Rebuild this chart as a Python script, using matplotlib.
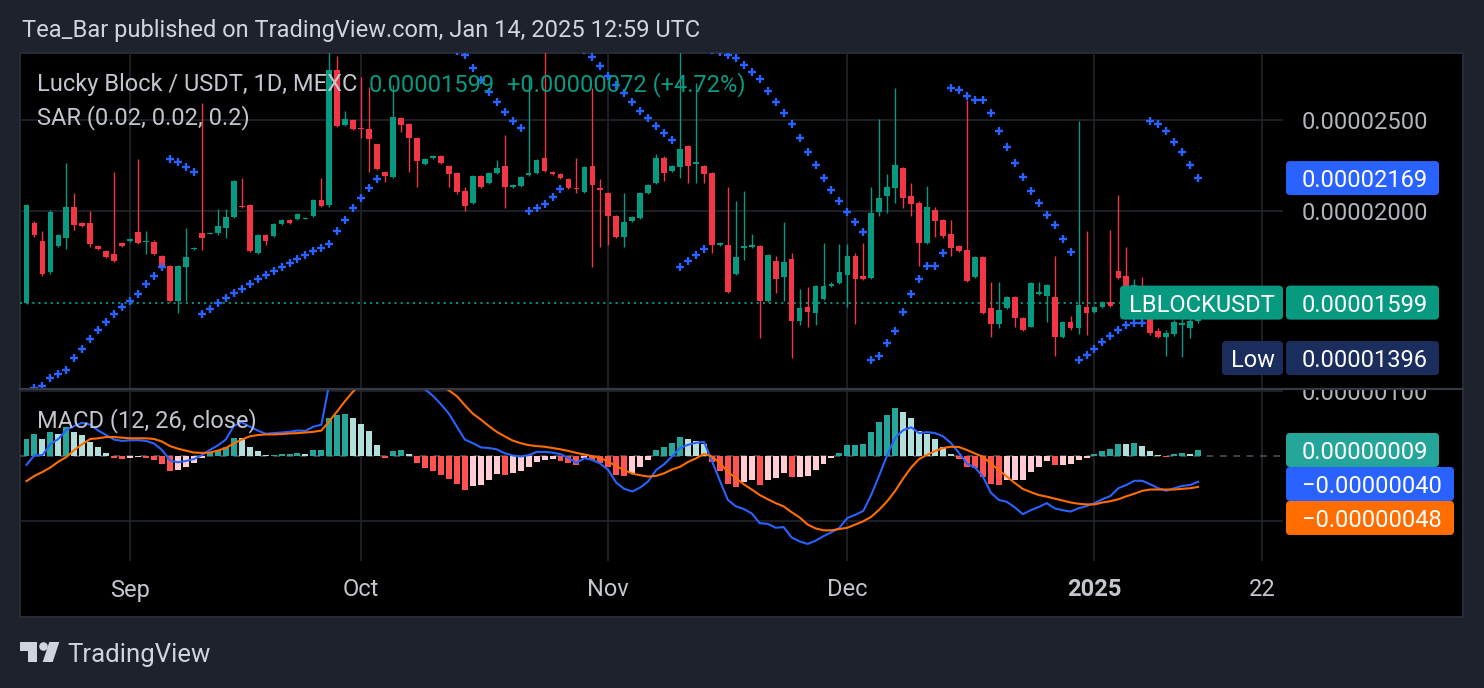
import numpy as np
import matplotlib.pyplot as plt
from matplotlib.patches import FancyBboxPatch, Rectangle, Polygon, Circle
from matplotlib.transforms import blended_transform_factory, IdentityTransform
from matplotlib.lines import Line2D

plt.rcParams['font.family'] = ['Roboto', 'DejaVu Sans']

# prices in units of 0.00000001 USDT, MACD values in units of 0.0000001
SCALE = 1e-8
MSCALE = 1e-7

# daily candles, Aug 20 2024 -> Jan 14 2025
opens = [
    1596, 1942, 1858, 1723, 1835, 1872, 2020, 1942, 1942, 1835,
    1813, 1800, 1849, 1858, 1900, 1854, 1854, 1791, 1748, 1604,
    1744, 1822, 1895, 1891, 1895, 1918, 1970, 2025, 2030, 1804,
    1886, 1882, 1937, 1956, 1961, 1961, 1975, 2055, 2030, 2826,
    2469, 2500, 2451, 2445, 2357, 2200, 2174, 2512, 2475, 2392,
    2244, 2277, 2289, 2233, 2195, 2101, 2040, 2179, 2143, 2195,
    2233, 2122, 2127, 2185, 2195, 2277, 2200, 2190, 2163, 2117,
    2096, 2233, 2117, 2090, 1975, 1877, 1951, 1965, 2090, 2143,
    2277, 2206, 2228, 2345, 2244, 2233, 2195, 1840, 1840, 1714,
    1827, 1831, 1835, 1604, 1769, 1701, 1778, 1527, 1581, 1557,
    1612, 1664, 1676, 1710, 1791, 1706, 1697, 1995, 2075, 2117,
    2222, 2075, 2040, 1849, 2005, 1956, 1891, 1835, 1818, 1701,
    1786, 1577, 1516, 1577, 1620, 1539, 1508, 1632, 1624, 1620,
    1469, 1523, 1501, 1581, 1561, 1581, 1600, 1727, 1706, 1648,
    1664, 1550, 1490, 1469, 1480, 1512, 1501, 1527]
highs = [
    2034, 1951, 1904, 2005, 1891, 2250, 2090, 1947, 2000, 1840,
    1818, 2200, 1854, 1872, 2272, 1904, 1863, 1795, 1752, 1752,
    1918, 1831, 2606, 1900, 2010, 2010, 2158, 2169, 2035, 1891,
    1891, 1942, 1961, 1961, 1990, 1970, 2060, 2169, 3150, 2925,
    2556, 2506, 2778, 2711, 2357, 2206, 2724, 2519, 2481, 2398,
    2277, 2294, 2294, 2239, 2200, 2122, 2185, 2185, 2200, 2266,
    2410, 2138, 2179, 2791, 2272, 3000, 2206, 2195, 2169, 2277,
    2233, 2704, 2163, 2096, 1980, 2090, 1975, 2096, 2138, 2300,
    2289, 2239, 3050, 2351, 2738, 2239, 2200, 1854, 2122, 2050,
    2101, 1891, 1840, 1800, 1791, 1947, 1804, 1652, 1660, 1668,
    1849, 1681, 1845, 1845, 1804, 1849, 2122, 2506, 2190, 2704,
    2228, 2143, 2050, 2127, 2020, 1961, 1956, 1840, 2625, 1791,
    1791, 1681, 1681, 1624, 1624, 1542, 1681, 1681, 1672, 1791,
    1527, 1546, 2494, 1904, 1584, 1604, 1909, 2080, 1831, 1693,
    1701, 1561, 1501, 1494, 1531, 1550, 1539, 1616]
lows = [
    1594, 1877, 1706, 1714, 1831, 1822, 1909, 1923, 1831, 1818,
    1782, 1765, 1831, 1854, 1845, 1800, 1795, 1744, 1600, 1557,
    1604, 1818, 1818, 1891, 1886, 1872, 1965, 2015, 1809, 1800,
    1840, 1877, 1933, 1937, 1956, 1961, 1970, 2020, 2020, 2457,
    2463, 2439, 2392, 2200, 2211, 2148, 2169, 2427, 2200, 2122,
    2239, 2272, 2244, 2122, 2085, 2000, 2035, 2117, 2138, 2190,
    2015, 2117, 2122, 2179, 2190, 2200, 2185, 2163, 2111, 2090,
    2090, 1744, 1831, 1840, 1872, 1831, 1947, 1961, 2085, 2138,
    2153, 2200, 2169, 2143, 2143, 2143, 1804, 1835, 1636, 1710,
    1774, 1827, 1465, 1600, 1636, 1604, 1396, 1512, 1505, 1512,
    1608, 1660, 1672, 1581, 1516, 1689, 1693, 1975, 1990, 2040,
    2015, 1975, 1748, 1845, 1877, 1872, 1791, 1809, 1681, 1697,
    1554, 1469, 1501, 1573, 1505, 1490, 1505, 1628, 1523, 1402,
    1465, 1497, 1480, 1476, 1557, 1577, 1581, 1693, 1652, 1628,
    1539, 1476, 1465, 1404, 1472, 1400, 1465, 1520]
closes = [
    2030, 1886, 1714, 1995, 1886, 2020, 1933, 1928, 1845, 1822,
    1786, 1769, 1835, 1868, 1849, 1858, 1800, 1748, 1604, 1748,
    1786, 1827, 1872, 1895, 1928, 1970, 2153, 2020, 1813, 1886,
    1858, 1937, 1956, 1942, 1985, 1965, 2055, 2025, 2826, 2463,
    2506, 2445, 2445, 2386, 2217, 2179, 2519, 2469, 2392, 2261,
    2272, 2289, 2250, 2190, 2096, 2025, 2179, 2122, 2195, 2222,
    2122, 2132, 2174, 2195, 2266, 2206, 2190, 2169, 2117, 2111,
    2228, 2132, 2106, 1975, 1877, 1947, 1970, 2090, 2132, 2277,
    2195, 2233, 2328, 2233, 2255, 2190, 1840, 1849, 1640, 1786,
    1835, 1840, 1604, 1795, 1693, 1765, 1527, 1577, 1561, 1664,
    1664, 1672, 1723, 1791, 1693, 1693, 1990, 2065, 2122, 2239,
    2065, 2035, 1849, 2020, 1951, 1882, 1827, 1813, 1685, 1786,
    1557, 1516, 1569, 1620, 1539, 1494, 1676, 1640, 1668, 1469,
    1523, 1501, 1588, 1557, 1581, 1600, 1584, 1697, 1656, 1668,
    1550, 1483, 1469, 1483, 1523, 1520, 1527, 1599]

# parabolic SAR (0.02, 0.02, 0.2) as plotted
sar = [
    1283, 1296, 1305, 1328, 1341, 1357, 1395, 1429, 1462, 1494,
    1523, 1554, 1581, 1604, 1632, 1672, 1706, 1744, 2272, 2255,
    2228, 2200, 1554, 1573, 1596, 1616, 1636, 1652, 1672, 1693,
    1710, 1727, 1744, 1761, 1778, 1795, 1813, 1827, 1845, 1904,
    1956, 2015, 2065, 2117, 2163, 3150, 3140, 3125, 3110, 3090,
    3065, 3040, 3010, 2985, 2960, 2932, 2840, 2758, 2678, 2612,
    2550, 2494, 2451, 2000, 2015, 2035, 2070, 2111, 3042, 3004,
    2968, 2917, 2854, 2784, 2724, 2671, 2612, 2556, 2512, 2463,
    2421, 2380, 1744, 1769, 1795, 1822, 2968, 2954, 2932, 2910,
    2861, 2812, 2764, 2684, 2612, 2544, 2475, 2392, 2311, 2239,
    2169, 2106, 2050, 1995, 1947, 1900, 1388, 1402, 1447, 1490,
    1561, 1632, 1693, 1748, 1748, 1804, 2704, 2691, 2652, 2625,
    2625, 2544, 2433, 2340, 2250, 2174, 2101, 2040, 1980, 1933,
    1868, 1809, 1388, 1408, 1429, 1451, 1472, 1494, 1512, 1520,
    1520, 2494, 2475, 2433, 2369, 2311, 2239, 2169]

# MACD (12, 26, close)
macd_line = [
    -1.4, 0.1, 0.1, 1.8, 2.6, 4.0, 4.6, 5.1, 4.8, 3.9,
    3.2, 2.5, 2.3, 2.4, 2.4, 2.3, 1.9, 0.9, -0.7, -1.0,
    -0.8, -0.5, 0.1, 0.9, 1.6, 2.5, 4.6, 5.2, 4.5, 3.9,
    3.4, 3.5, 3.6, 3.7, 3.9, 3.85, 4.5, 4.8, 11.2, 13.2,
    14.9, 15.75, 16.1, 15.95, 14.15, 12.05, 13.3, 13.75, 13.15, 11.5,
    10.25, 9.25, 7.95, 6.5, 4.5, 2.5, 1.95, 1.3, 1.2, 1.0,
    0.4, 0.05, -0.1, 0.1, 0.6, 0.6, 0.5, 0.25, -0.35, -1.1,
    -0.35, -0.65, -1.2, -2.2, -4.15, -5.1, -5.5, -4.9, -3.95, -2.2,
    -1.3, -0.1, 1.2, 1.7, 2.0, 2.15, -0.8, -3.85, -6.8, -7.8,
    -8.2, -8.9, -10.4, -10.5, -11.1, -11.0, -12.6, -13.2, -13.6, -13.1,
    -12.4, -11.8, -11.1, -9.6, -9.1, -8.5, -6.0, -3.0, 0.15, 2.8,
    3.95, 4.4, 3.5, 3.65, 3.5, 3.0, 1.95, 0.45, -1.2, -1.8,
    -3.2, -5.7, -6.8, -7.1, -7.95, -9.0, -8.4, -7.9, -7.3, -8.1,
    -8.4, -8.6, -8.1, -7.75, -7.3, -6.7, -6.2, -5.0, -4.5, -3.85,
    -3.85, -4.4, -5.0, -5.4, -5.0, -4.65, -4.5, -4.0]
signal_line = [
    -3.9, -3.1, -2.5, -1.8, -0.9, -0.2, 0.9, 1.8, 2.6, 2.7,
    2.9, 2.9, 2.8, 2.7, 2.7, 2.7, 2.6, 2.2, 1.5, 1.1,
    0.8, 0.5, 0.45, 0.5, 0.8, 1.2, 1.9, 2.5, 3.0, 3.2,
    3.3, 3.3, 3.35, 3.45, 3.5, 3.6, 3.7, 3.9, 5.35, 6.9,
    8.5, 9.95, 11.2, 12.15, 12.55, 12.45, 12.6, 12.85, 12.9, 12.6,
    12.15, 11.55, 10.85, 10.1, 9.2, 7.8, 6.5, 5.6, 4.6, 3.7,
    3.0, 2.35, 1.95, 1.65, 1.5, 1.4, 1.2, 1.0, 0.75, 0.45,
    0.2, -0.05, -0.35, -0.9, -1.6, -2.2, -2.75, -3.0, -3.2, -3.1,
    -2.7, -2.1, -1.7, -0.95, -0.4, 0.3, -0.1, -1.1, -2.5, -3.4,
    -4.4, -5.2, -6.05, -6.7, -7.3, -7.8, -8.7, -9.5, -10.6, -11.2,
    -11.5, -11.5, -11.3, -11.1, -10.6, -10.1, -9.4, -8.3, -7.0, -5.4,
    -3.5, -1.8, -0.5, 0.15, 0.75, 1.2, 1.4, 1.35, 0.9, 0.35,
    -0.15, -1.2, -2.2, -3.2, -4.2, -5.1, -5.6, -6.05, -6.3, -6.6,
    -6.9, -7.2, -7.4, -7.5, -7.5, -7.2, -7.0, -6.7, -6.25, -5.85,
    -5.4, -5.2, -5.2, -5.2, -5.2, -5.1, -5.0, -4.8]
macd_hist = [
    2.6, 3.3, 2.6, 3.6, 3.4, 4.4, 3.6, 3.2, 2.2, 1.3,
    0.4, -0.4, -0.5, -0.3, -0.25, -0.4, -0.7, -1.3, -2.3, -2.2,
    -1.7, -1.1, -0.3, 0.5, 0.9, 1.4, 2.8, 2.75, 1.4, 0.8,
    0.15, 0.2, 0.25, 0.3, 0.4, 0.25, 0.9, 0.95, 5.8, 6.3,
    6.4, 5.8, 4.9, 3.8, 1.6, -0.4, 0.7, 0.9, 0.25, -1.1,
    -1.9, -2.3, -2.9, -3.6, -4.4, -5.2, -4.6, -4.5, -3.7, -2.8,
    -2.9, -2.7, -2.3, -1.7, -0.9, -0.6, -0.55, -0.8, -1.1, -1.4,
    -0.4, -0.7, -1.1, -1.7, -2.9, -3.1, -2.7, -1.7, -0.7, 0.9,
    1.4, 1.9, 2.9, 2.6, 2.3, 1.8, -0.9, -2.4, -4.4, -4.8,
    -4.1, -3.8, -4.5, -3.7, -3.5, -2.7, -3.3, -3.2, -3.1, -2.2,
    -1.3, -0.4, 0.5, 1.6, 1.65, 1.8, 3.6, 5.2, 6.3, 7.4,
    6.8, 5.8, 3.8, 3.3, 2.6, 1.3, 0.25, -0.5, -1.8, -1.9,
    -3.3, -4.3, -4.5, -3.8, -3.75, -3.7, -2.5, -1.7, -0.8, -1.45,
    -1.4, -1.3, -0.6, -0.4, 0.25, 0.7, 1.0, 1.85, 1.8, 2.0,
    1.5, 0.7, 0.15, -0.25, 0.25, 0.5, 0.35, 0.9]

tick_pos = [13, 42, 73, 103, 134, 155]
tick_labels = ['Sep', 'Oct', 'Nov', 'Dec', '2025', '22']

# ---- colours
BG = '#1e222d'
BORDER = '#2a2e39'
GRID = '#22252d'
TXT = '#b2b5be'
UP = '#089981'
DOWN = '#f23645'
BLUE = '#2962ff'
ORANGE = '#ff6d00'
LOWC = '#1b2d5c'
FS = 17

o = np.array(opens) * SCALE
h = np.array(highs) * SCALE
l = np.array(lows) * SCALE
c = np.array(closes) * SCALE
s = np.array(sar) * SCALE
m = np.array(macd_line) * MSCALE
sg = np.array(signal_line) * MSCALE
hist = np.array(macd_hist) * MSCALE
x = np.arange(len(c))

W, H = 1484, 688
fig = plt.figure(figsize=(W / 100, H / 100), dpi=100, facecolor=BG)


def fx(px):
    return px / W


def fy(py):
    return 1 - py / H


L, R, TOP, SEP, BOT, FRAME_BOT = 20, 1463, 53, 389.5, 561, 617
XMIN = -0.816
XMAX = XMIN + (R - L) / 7.97
PLOT_END = XMIN + (1283 - L) / 7.97

fig.add_artist(Rectangle((fx(L), fy(FRAME_BOT)), fx(R) - fx(L), fy(TOP) - fy(FRAME_BOT),
                         transform=fig.transFigure, fc='black', ec=BORDER, lw=1.3, zorder=-5))

ax = fig.add_axes([fx(L), fy(SEP), fx(R) - fx(L), fy(TOP) - fy(SEP)])
ax2 = fig.add_axes([fx(L), fy(BOT), fx(R) - fx(L), fy(SEP) - fy(BOT)])
ax.set_yscale('log')
ax.set_ylim(1.2926e-5, 2.946e-5)
ax2.set_ylim(-16.23 * MSCALE, 10.23 * MSCALE)
for a in (ax, ax2):
    a.set_facecolor('none')
    a.set_xlim(XMIN, XMAX)
    for sp in a.spines.values():
        sp.set_visible(False)
    a.set_xticks([])
    a.set_yticks([])
    a.yaxis.set_minor_locator(plt.NullLocator())
    a.tick_params(which='both', left=False, bottom=False, labelleft=False, labelbottom=False)
    for t in tick_pos:
        a.axvline(t, color=GRID, lw=1.2, zorder=1)

# ---- price panel
ax.hlines([2.0e-5, 2.5e-5], XMIN, PLOT_END, colors=GRID, lw=1.2, zorder=1)
ax.hlines(c[-1], XMIN, PLOT_END, colors=UP, linestyles=(0, (1.2, 2.2)), lw=1.3, zorder=2)

cols = np.where(c >= o, UP, DOWN)
ax.vlines(x, l, h, colors=cols, lw=1.0, zorder=3)
body_lo = np.minimum(o, c)
body_h = np.maximum(np.abs(c - o), body_lo * 0.003)
ax.bar(x, body_h, bottom=body_lo, width=0.72, color=cols, linewidth=0, zorder=4)
ax.plot(x, s, ls='none', marker='+', ms=5.5, mew=1.7, color=BLUE, zorder=5)

# ---- MACD panel
ax2.hlines([1e-6, -1e-6], XMIN, PLOT_END, colors=GRID, lw=1.2, zorder=1)
ax2.hlines(0, XMIN, PLOT_END, colors='#4a4d56', linestyles=(0, (4, 4)), lw=1.2, zorder=2)
hcols = []
for i, v in enumerate(hist):
    p = hist[i - 1] if i > 0 else v - 1
    if v >= 0:
        hcols.append('#26a69a' if v > p else '#b2dfdb')
    else:
        hcols.append('#ffcdd2' if v > p else '#ff5252')
ax2.bar(x, hist, width=0.75, color=hcols, linewidth=0, zorder=3)
ax2.plot(x, m, color=BLUE, lw=1.5, zorder=4)
ax2.plot(x, sg, color=ORANGE, lw=1.5, zorder=4)

fig.add_artist(Line2D([fx(L), fx(R)], [fy(SEP)] * 2, transform=fig.transFigure,
                      color='#363a45', lw=1.6, zorder=2))

# ---- time axis
tr = blended_transform_factory(ax2.transData, fig.transFigure)
for t, lab in zip(tick_pos, tick_labels):
    ax2.text(t, fy(590), lab, transform=tr, ha='center', va='center', fontsize=FS,
             color='#c4c7cf', fontweight='bold' if lab == '2025' else 'normal')


# ---- right scale labels and tags
def pix_y(a, v):
    return H - a.transData.transform((0, v))[1]


def tag(px0, px1, pyc, text, color, tx=None, ha='left', hgt=34):
    fig.add_artist(FancyBboxPatch((px0, H - pyc - hgt / 2), px1 - px0, hgt,
                                  boxstyle='round,pad=0,rounding_size=4',
                                  transform=IdentityTransform(), fc=color, ec='none', zorder=6))
    tx = px0 + 16 if tx is None else tx
    fig.text(fx(tx), fy(pyc), text, ha=ha, va='center_baseline', color='white',
             fontsize=FS, zorder=7)


def fmt(v):
    return f'{v:.8f}'.replace('-', '\u2212')


for v in (2.5e-5, 2.0e-5):
    fig.text(fx(1302), fy(pix_y(ax, v)), fmt(v), ha='left', va='center_baseline',
             color=TXT, fontsize=FS)
ax2.text((1302 - L) / (R - L), 1e-6, fmt(1e-6),
         transform=blended_transform_factory(ax2.transAxes, ax2.transData),
         ha='left', va='center_baseline', color=TXT, fontsize=FS, clip_on=True)

tag(1286, 1439, pix_y(ax, s[-1]), fmt(s[-1]), BLUE)
py_last = pix_y(ax, c[-1])
tag(1120, 1283, py_last, 'LBLOCKUSDT', UP, tx=1201.5, ha='center')
tag(1286, 1439, py_last, fmt(c[-1]), UP)
py_low = pix_y(ax, l.min())
tag(1222, 1283, py_low, 'Low', LOWC, tx=1252.5, ha='center')
tag(1286, 1439, py_low, fmt(l.min()), LOWC)

py_h = pix_y(ax2, hist[-1])
tag(1286, 1439, py_h, fmt(hist[-1]), '#26a69a')
py_m = max(pix_y(ax2, m[-1]), py_h + 34)
tag(1286, 1454, py_m, fmt(m[-1]), BLUE)
py_s = max(pix_y(ax2, sg[-1]), py_m + 34)
tag(1286, 1454, py_s, fmt(sg[-1]), ORANGE)

# ---- legends
chg = c[-1] - c[-2]
fig.text(fx(37), fy(85), 'Lucky Block / USDT, 1D, MEXC', color='#c3c6ce', fontsize=FS, va='center')
fig.text(fx(369), fy(85), fmt(c[-1]), color=UP, fontsize=FS, va='center')
fig.text(fx(507), fy(85), f'+{chg:.8f} (+{chg / c[-2] * 100:.2f}%)', color=UP, fontsize=FS, va='center')
fig.text(fx(37), fy(118), 'SAR (0.02, 0.02, 0.2)', color='#c3c6ce', fontsize=FS, va='center')
fig.text(fx(37), fy(421), 'MACD (12, 26, close)', color='#c3c6ce', fontsize=FS, va='center')

fig.text(fx(22), fy(30), 'Tea_Bar published on TradingView.com, Jan 14, 2025 12:59 UTC',
         color='#d1d4dc', fontsize=FS, va='center')

# ---- TradingView logo
LOGO = '#d1d4dc'
fig.add_artist(Polygon([(20, H - 642), (37, H - 642), (37, H - 662), (28, H - 662), (28, H - 651), (20, H - 651)],
                       closed=True, transform=IdentityTransform(), fc=LOGO, ec='none'))
fig.add_artist(Circle((43.5, H - 646.5), 4.3, transform=IdentityTransform(), fc=LOGO, ec='none'))
fig.add_artist(Polygon([(49.3, H - 642), (59.3, H - 642), (52.7, H - 662), (42.7, H - 662)],
                       closed=True, transform=IdentityTransform(), fc=LOGO, ec='none'))
fig.text(fx(67), fy(655), 'TradingView', color=LOGO, fontsize=18.5, va='center')

fig.savefig('out.png', dpi=100, facecolor=BG)
